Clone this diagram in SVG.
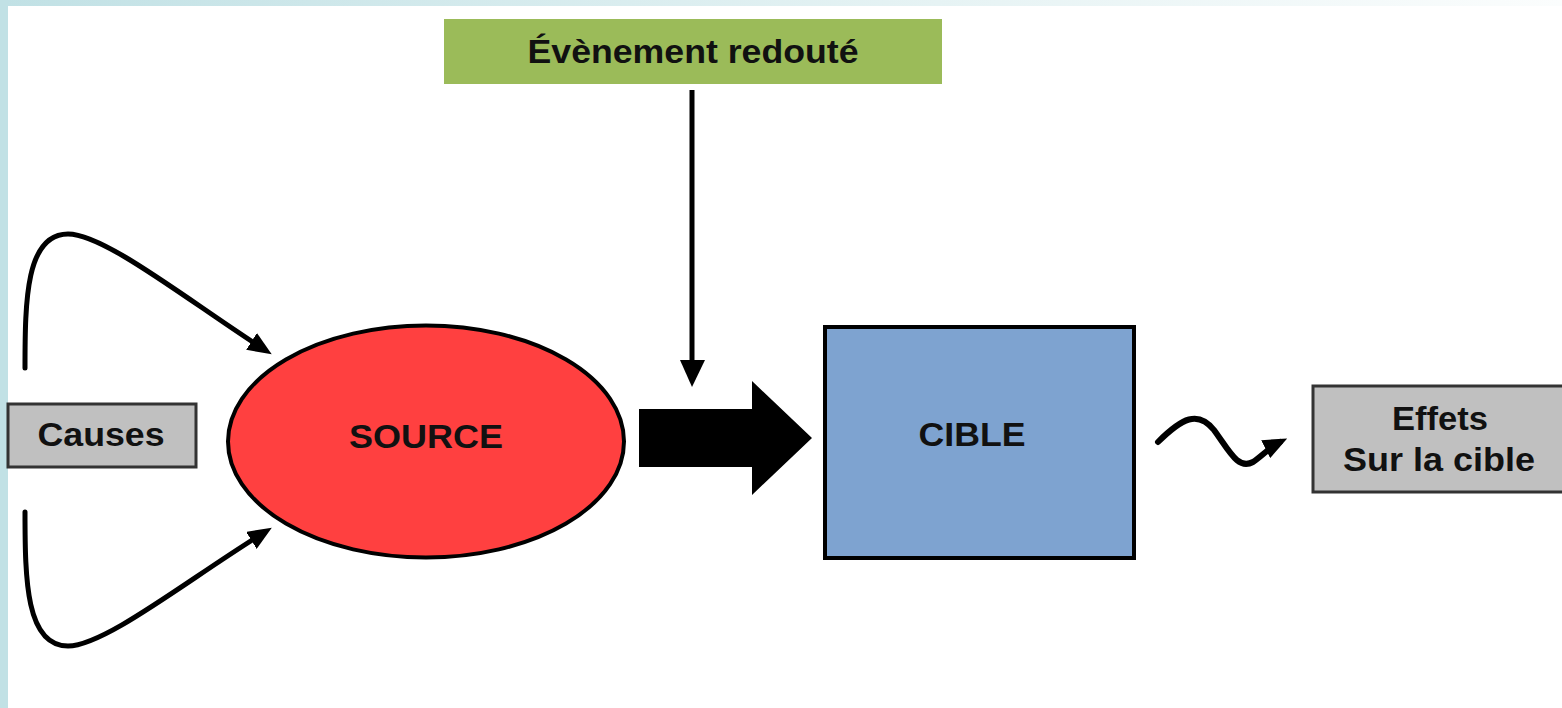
<svg xmlns="http://www.w3.org/2000/svg" width="1562" height="708" viewBox="0 0 1562 708">
  <defs>
    <linearGradient id="topBand" x1="0" y1="0" x2="1" y2="0">
      <stop offset="0" stop-color="#c1e1e5"/>
      <stop offset="0.6" stop-color="#e6f3f4"/>
      <stop offset="1" stop-color="#fbfdfd"/>
    </linearGradient>
    <marker id="head" markerUnits="userSpaceOnUse" viewBox="0 0 24 20" refX="16" refY="10" markerWidth="24" markerHeight="20" orient="auto">
      <path d="M0,0 L24,10 L0,20 Z" fill="#000"/>
    </marker>
    <style>
      .lbl { font-family: "Liberation Sans", Arial, sans-serif; font-weight: bold; font-size: 33px; fill: #111; text-anchor: middle; }
      .box { stroke-width: 3; }
      .link { fill: none; stroke: #000; stroke-width: 5; stroke-linecap: round; }
    </style>
  </defs>

  <!-- page background with tinted frame bands -->
  <rect x="0" y="0" width="1562" height="708" fill="#ffffff"/>
  <rect x="0" y="0" width="1562" height="6" fill="url(#topBand)"/>
  <rect x="0" y="0" width="8" height="708" fill="#c1e1e5"/>

  <!-- nodes -->
  <g id="evenement">
    <rect x="444" y="19" width="498" height="65" fill="#9bbb59"/>
    <text class="lbl" x="693" y="63" textLength="331" lengthAdjust="spacingAndGlyphs">Évènement redouté</text>
  </g>

  <g id="causes">
    <rect class="box" x="8" y="404" width="188" height="63" fill="#c0c0c0" stroke="#333"/>
    <text class="lbl" x="101" y="446" textLength="127" lengthAdjust="spacingAndGlyphs">Causes</text>
  </g>

  <g id="source">
    <ellipse cx="426" cy="441.5" rx="198" ry="116" fill="#ff4040" stroke="#000" stroke-width="4"/>
    <text class="lbl" x="426" y="448" textLength="154" lengthAdjust="spacingAndGlyphs">SOURCE</text>
  </g>

  <g id="cible">
    <rect x="825" y="327" width="309" height="231" fill="#7ea3d0" stroke="#000" stroke-width="4"/>
    <text class="lbl" x="972" y="446" textLength="107" lengthAdjust="spacingAndGlyphs">CIBLE</text>
  </g>

  <g id="effets">
    <rect class="box" x="1313" y="386" width="252" height="106" fill="#c0c0c0" stroke="#333"/>
    <text class="lbl" x="1440" y="430" textLength="96" lengthAdjust="spacingAndGlyphs">Effets</text>
    <text class="lbl" x="1439" y="471" textLength="192" lengthAdjust="spacingAndGlyphs">Sur la cible</text>
  </g>

  <!-- connectors -->
  <g id="connectors">
    <!-- causes looping into the source, above and below -->
    <path class="link" d="M25,368 C25,300 26,234 68,234 C105,234 190,302 265,350" marker-end="url(#head)"/>
    <path class="link" d="M25,512 C25,580 26,646 68,646 C105,646 190,578 265,532" marker-end="url(#head)"/>

    <!-- feared event dropping onto the source-to-target flow -->
    <line x1="692" y1="90" x2="692" y2="364" stroke="#000" stroke-width="5"/>
    <polygon points="680,360 705,360 692,387" fill="#000"/>

    <!-- source to target block arrow -->
    <polygon points="639,409 752,409 752,381 812,438 752,495 752,467 639,467" fill="#000"/>

    <!-- wavy effect arrow -->
    <path class="link" style="stroke-width:6" d="M1158,442 C1182,418 1198,410 1214,430 C1230,452 1238,470 1253,462 C1262,456 1270,447 1280,442" marker-end="url(#head)"/>
  </g>
</svg>
